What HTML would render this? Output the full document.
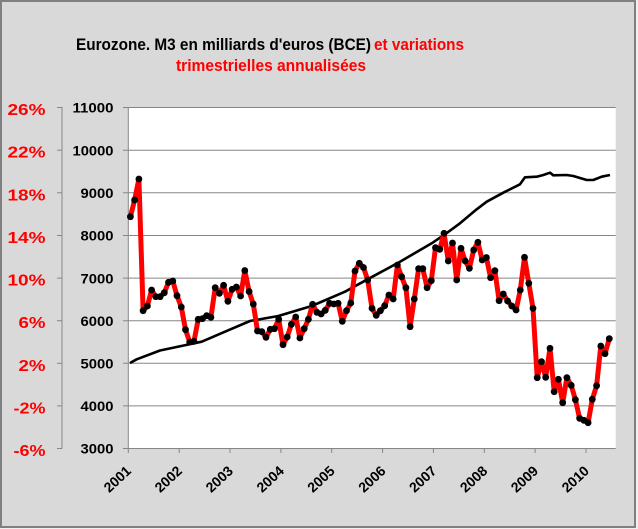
<!DOCTYPE html>
<html><head><meta charset="utf-8"><style>
html,body{margin:0;padding:0;background:#fff;}
svg{display:block;}
text{font-family:"Liberation Sans",Arial,sans-serif;font-weight:bold;}
</style></head><body>
<svg width="638" height="529" viewBox="0 0 638 529" xmlns="http://www.w3.org/2000/svg">
<defs>
<marker id="dot" markerUnits="userSpaceOnUse" markerWidth="10" markerHeight="10" refX="5" refY="5" viewBox="0 0 10 10">
<circle cx="5" cy="5" r="3.4" fill="#000"/>
</marker>
</defs>
<rect x="0" y="0" width="638" height="529" fill="#f0f0f0"/>
<rect x="1" y="1" width="634" height="526" fill="#d9d9d9" stroke="#808080" stroke-width="2"/>
<!-- title -->
<text x="76" y="50" font-size="17" fill="#000" textLength="295" lengthAdjust="spacingAndGlyphs">Eurozone. M3 en milliards d'euros (BCE)</text>
<text x="374" y="50" font-size="17" fill="#ff0000" textLength="90" lengthAdjust="spacingAndGlyphs">et variations</text>
<text x="176" y="71" font-size="17" fill="#ff0000" textLength="190" lengthAdjust="spacingAndGlyphs">trimestrielles annualisées</text>
<!-- plot area -->
<rect x="128.3" y="107" width="487.4" height="341" fill="#fff"/>
<g stroke="#868686" stroke-width="1">
<line x1="123" y1="107.5" x2="615.7" y2="107.5"/>
<line x1="123" y1="150.2" x2="615.7" y2="150.2"/>
<line x1="123" y1="192.8" x2="615.7" y2="192.8"/>
<line x1="123" y1="235.5" x2="615.7" y2="235.5"/>
<line x1="123" y1="278.1" x2="615.7" y2="278.1"/>
<line x1="123" y1="320.7" x2="615.7" y2="320.7"/>
<line x1="123" y1="363.3" x2="615.7" y2="363.3"/>
<line x1="123" y1="405.9" x2="615.7" y2="405.9"/>
<line x1="123" y1="448.5" x2="615.7" y2="448.5"/>
<line x1="128.3" y1="107" x2="128.3" y2="453"/>
<!-- secondary axis -->
<line x1="62" y1="107" x2="62" y2="448.5"/>
<line x1="57" y1="107.5" x2="62" y2="107.5"/>
<line x1="57" y1="150.2" x2="62" y2="150.2"/>
<line x1="57" y1="192.8" x2="62" y2="192.8"/>
<line x1="57" y1="235.5" x2="62" y2="235.5"/>
<line x1="57" y1="278.1" x2="62" y2="278.1"/>
<line x1="57" y1="320.7" x2="62" y2="320.7"/>
<line x1="57" y1="363.3" x2="62" y2="363.3"/>
<line x1="57" y1="405.9" x2="62" y2="405.9"/>
<line x1="57" y1="448.5" x2="62" y2="448.5"/>
<!-- x ticks -->
<line x1="179.2" y1="448" x2="179.2" y2="453"/>
<line x1="230" y1="448" x2="230" y2="453"/>
<line x1="280.9" y1="448" x2="280.9" y2="453"/>
<line x1="331.7" y1="448" x2="331.7" y2="453"/>
<line x1="382.6" y1="448" x2="382.6" y2="453"/>
<line x1="433.4" y1="448" x2="433.4" y2="453"/>
<line x1="484.3" y1="448" x2="484.3" y2="453"/>
<line x1="535.1" y1="448" x2="535.1" y2="453"/>
<line x1="586" y1="448" x2="586" y2="453"/>
</g>
<!-- primary y labels -->
<g font-size="14" fill="#000" text-anchor="end">
<text x="113.5" y="112.7" textLength="41" lengthAdjust="spacingAndGlyphs">11000</text>
<text x="113.5" y="155.4" textLength="41" lengthAdjust="spacingAndGlyphs">10000</text>
<text x="113.5" y="198" textLength="33" lengthAdjust="spacingAndGlyphs">9000</text>
<text x="113.5" y="240.7" textLength="33" lengthAdjust="spacingAndGlyphs">8000</text>
<text x="113.5" y="283.3" textLength="33" lengthAdjust="spacingAndGlyphs">7000</text>
<text x="113.5" y="325.9" textLength="33" lengthAdjust="spacingAndGlyphs">6000</text>
<text x="113.5" y="368.5" textLength="33" lengthAdjust="spacingAndGlyphs">5000</text>
<text x="113.5" y="411.1" textLength="33" lengthAdjust="spacingAndGlyphs">4000</text>
<text x="113.5" y="453.7" textLength="33" lengthAdjust="spacingAndGlyphs">3000</text>
</g>
<!-- secondary y labels -->
<g font-size="16" fill="#ff0000" text-anchor="end">
<text x="45.5" y="115" textLength="38" lengthAdjust="spacingAndGlyphs">26%</text>
<text x="45.5" y="157.7" textLength="38" lengthAdjust="spacingAndGlyphs">22%</text>
<text x="45.5" y="200.3" textLength="38" lengthAdjust="spacingAndGlyphs">18%</text>
<text x="45.5" y="243" textLength="38" lengthAdjust="spacingAndGlyphs">14%</text>
<text x="45.5" y="285.6" textLength="38" lengthAdjust="spacingAndGlyphs">10%</text>
<text x="45.5" y="328.2" textLength="27" lengthAdjust="spacingAndGlyphs">6%</text>
<text x="45.5" y="370.8" textLength="27" lengthAdjust="spacingAndGlyphs">2%</text>
<text x="45.5" y="413.4" textLength="32" lengthAdjust="spacingAndGlyphs">-2%</text>
<text x="45.5" y="456" textLength="32" lengthAdjust="spacingAndGlyphs">-6%</text>
</g>
<!-- x labels -->
<g font-size="14" fill="#000" text-anchor="end">
<text transform="translate(132,472) rotate(-43)">2001</text>
<text transform="translate(183,472) rotate(-43)">2002</text>
<text transform="translate(234,472) rotate(-43)">2003</text>
<text transform="translate(284.9,472) rotate(-43)">2004</text>
<text transform="translate(335.7,472) rotate(-43)">2005</text>
<text transform="translate(386.6,472) rotate(-43)">2006</text>
<text transform="translate(437.4,472) rotate(-43)">2007</text>
<text transform="translate(488.3,472) rotate(-43)">2008</text>
<text transform="translate(539.1,472) rotate(-43)">2009</text>
<text transform="translate(590,472) rotate(-43)">2010</text>
</g>
<!-- M3 black line -->
<polyline fill="none" stroke="#000" stroke-width="2.6" stroke-linejoin="round" points="130,363 136.7,359.3 160,350.5 179,346.5 201.7,341.7 225,331.7 250,321 278.3,316 311.7,306 345,291.7 365,280.7 398.3,262.7 431.7,243.3 445,234.3 460,223.3 476.7,209.3 486.7,201.7 503.3,192.7 520,184.3 525,177.3 536.7,176.7 543.3,175 550,172.7 553.3,175.3 566.7,175 573.3,176 586.7,180 593.3,180 601.7,176.7 610,175"/>
<!-- red variations -->
<polyline fill="none" stroke="#ff0000" stroke-width="5" stroke-linejoin="round" stroke-linecap="round" marker-start="url(#dot)" marker-mid="url(#dot)" marker-end="url(#dot)" points="130.4,216.7 134.6,200 138.9,179 143.1,310.7 147.4,306 151.6,290 155.8,296.7 160.1,296.7 164.3,292.7 168.5,282.3 172.8,281 177,295.7 181.3,307 185.5,329.7 189.7,342 194,341.3 198.2,319.3 202.4,318.7 206.7,315.7 210.9,317.3 215.2,287.7 219.4,293.3 223.6,285.3 227.9,301.3 232.1,289.3 236.4,287 240.6,296 244.8,270.5 249.1,291.5 253.3,304 257.5,331 261.8,331.7 266,337.3 270.3,329.3 274.5,328.7 278.7,319.3 283,344.7 287.2,337 291.4,324.3 295.7,317 299.9,338 304.2,328.7 308.4,319.3 312.6,304.3 316.9,312.3 321.1,314 325.3,310.3 329.6,303.3 333.8,304 338.1,303.3 342.3,321.3 346.5,310.7 350.8,303 355,271 359.3,263.3 363.5,267.5 367.7,280 372,308.3 376.2,315.3 380.4,310.7 384.7,305.7 388.9,295 393.2,299 397.4,265 401.6,276.7 405.9,287.7 410.1,326.7 414.3,299 418.6,268.7 422.8,268.7 427.1,287.7 431.3,280.7 435.5,247.7 439.8,249.3 444,233.3 448.3,261 452.5,243 456.7,280 461,248.3 465.2,261 469.4,268.3 473.7,250 477.9,242.3 482.2,260 486.4,257.5 490.6,277.7 494.9,270.7 499.1,300.7 503.3,294 507.6,301 511.8,306 516.1,310 520.3,290 524.5,257.3 528.8,283.3 533,308.3 537.2,377.7 541.5,361.7 545.7,377.3 550,348.3 554.2,391.7 558.4,379.3 562.7,402.7 566.9,377.7 571.2,385.3 575.4,399.7 579.6,418.3 583.9,420.3 588.1,422.7 592.3,399.3 596.6,385.7 600.8,346 605,353.7 609.3,338.7"/>
</svg>
</body></html>
